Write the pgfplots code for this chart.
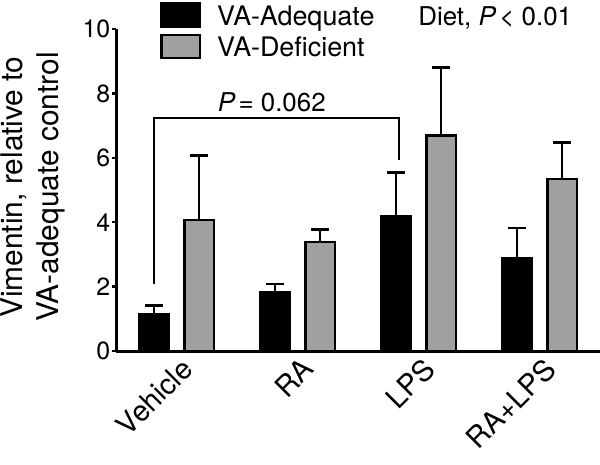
\documentclass[border=0pt]{standalone}
\usepackage{pgfplots}
\pgfplotsset{compat=1.18}
\usepackage{fontspec}
\setmainfont{TeX Gyre Heros}
\definecolor{bargray}{RGB}{160,160,160}
\begin{document}
\begin{tikzpicture}[font=\fontsize{26}{36}\selectfont]
\begin{axis}[name=ax, scale only axis, width=484bp, height=322bp,
  font=\fontsize{26}{36}\selectfont,
  ybar, bar width=29.5bp,
  xmin=-0.5, xmax=3.5, ymin=0, ymax=10,
  axis x line=bottom, axis y line=left,
  axis line style={line width=3bp, -},
  xtick={0,1,2,3}, xticklabels={Vehicle,RA,LPS,RA+LPS},
  x tick style={draw=none},
  ytick={0,2,4,6,8,10},
  y tick style={line width=2.5bp, black},
  tick align=outside, major tick length=4bp,
  yticklabel style={inner sep=1.5bp, font=\fontsize{25}{30}\selectfont},
  xticklabel style={xshift=3bp, yshift=-1bp, rotate=45, anchor=north east, inner sep=0pt, font=\fontsize{29}{34}\selectfont},
  /pgf/number format/assume math mode=true,
  ylabel={Vimentin, relative to\\VA-adequate control},
  ylabel style={align=center, font=\fontsize{30}{36}\selectfont, at={(axis description cs:-0.172,0.509)}, anchor=center, rotate=0},
  clip=false,
  legend style={at={(rel axis cs:0.0909,1.084)}, anchor=north west, draw=none, fill=none,
    inner sep=0pt, row sep=6bp, font=\fontsize{27}{32}\selectfont, nodes={inner sep=0pt, anchor=base west}},
  legend cell align=left,
  legend image code/.code={\draw[#1] (0bp,-1bp) rectangle (38.5bp,22bp);},
  /tikz/every odd column/.append style={column sep=16bp},
]
\addplot[bar shift=-22.5bp, fill=black, draw=black, line width=2.5bp,
  error bars/.cd, y dir=plus, y explicit,
  error bar style={line width=2.5bp, black},
  error mark options={rotate=90, mark size=9bp, line width=2.5bp, black}]
  coordinates {(0,1.13) +- (0,0.28) (1,1.84) +- (0,0.24) (2,4.18) +- (0,1.36) (3,2.89) +- (0,0.93)};
\addlegendentry{VA-Adequate}
\addplot[bar shift=22.5bp, fill=bargray, draw=black, line width=2.5bp,
  error bars/.cd, y dir=plus, y explicit,
  error bar style={line width=2.5bp, black},
  error mark options={rotate=90, mark size=9bp, line width=2.5bp, black}]
  coordinates {(0,4.07) +- (0,2.00) (1,3.39) +- (0,0.39) (2,6.69) +- (0,2.11) (3,5.34) +- (0,1.13)};
\addlegendentry{VA-Deficient}
\draw[line width=1.5bp] (axis cs:-0.185,2.08) -- (axis cs:-0.185,7.24) -- (axis cs:1.84,7.24) -- (axis cs:1.84,5.93);
\node[anchor=base, inner sep=0pt] at (axis cs:0.787,7.45) {\textit{P}\hspace{0.12em}= 0.062};
\node[anchor=base, inner sep=0pt] at (axis cs:2.634,10.12) {Diet, \textit{P}\hspace{0.12em}< 0.01};
\end{axis}
\pgfresetboundingbox
\path ([shift={(-116bp,-113bp)}]ax.south west) rectangle ([shift={(0bp,29bp)}]ax.north east);
\end{tikzpicture}
\end{document}
